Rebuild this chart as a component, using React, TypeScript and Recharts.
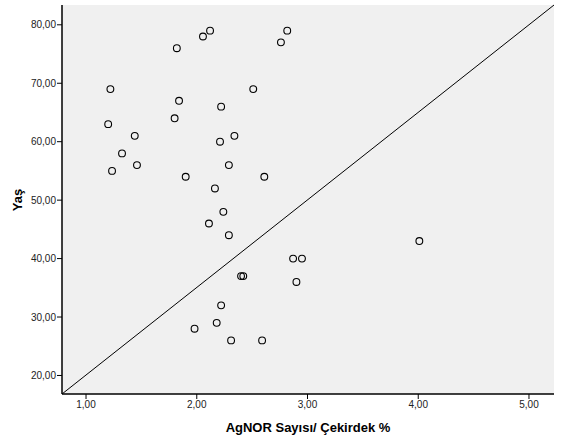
import {
  ScatterChart,
  Scatter,
  XAxis,
  YAxis,
  CartesianGrid,
  ReferenceLine,
  Label,
} from 'recharts';

// AgNOR count per nucleus
const agnor = [
  1.22, 1.82, 1.84, 1.8, 1.2, 1.44, 1.325, 1.46, 1.235, 1.9,
  2.056, 2.12, 2.817, 2.76, 2.51, 2.22, 2.34, 2.21, 2.29, 2.61, 2.164, 2.24,
  2.11, 2.29, 2.87, 2.95, 2.4, 2.42, 2.9, 2.22, 2.18, 1.98, 2.31, 2.59,
  4.01,
];

// age
const yas = [
  69, 76, 67, 64, 63, 61, 58, 56, 55, 54,
  78, 79, 79, 77, 69, 66, 61, 60, 56, 54, 52, 48,
  46, 44, 40, 40, 37, 37, 36, 32, 29, 28, 26, 26,
  43,
];

const xTicks = [1, 2, 3, 4, 5];
const yTicks = [20, 30, 40, 50, 60, 70, 80];

const X_DOMAIN: [number, number] = [0.783, 5.226];
const Y_DOMAIN: [number, number] = [16.83, 83.39];

const points = agnor.map((x, i) => ({ x, y: yas[i] }));

const fmt = (v: number) => v.toFixed(2).replace('.', ',');

const FONT = '"Liberation Sans", Arial, sans-serif';
const tickStyle = { fontSize: 10, fill: '#222', fontFamily: FONT };

const Ring = (props: any) => (
  <circle cx={props.cx} cy={props.cy} r={3.4} fill="none" stroke="#000" strokeWidth={1.1} />
);

export default function App() {
  return (
    <div style={{ position: 'absolute', left: 0, top: 0, background: '#fff' }}>
      <ScatterChart width={561} height={438} margin={{ top: 5, right: 7, bottom: 0, left: 0 }}>
        <CartesianGrid horizontal={false} vertical={false} fill="#f0f0f0" fillOpacity={1} stroke="none" />
        <XAxis
          type="number"
          dataKey="x"
          domain={X_DOMAIN}
          ticks={xTicks}
          allowDataOverflow
          height={44}
          tickFormatter={fmt}
          tick={tickStyle}
          tickSize={5}
          tickMargin={2}
          stroke="#000"
          axisLine={{ stroke: '#000', strokeWidth: 1.5 }}
        >
          <Label
            content={() => (
              <text
                x={308}
                y={432}
                textAnchor="middle"
                fontFamily={FONT}
                fontSize={13}
                fontWeight="bold"
                fill="#000"
              >
                AgNOR Sayısı/ Çekirdek %
              </text>
            )}
          />
        </XAxis>
        <XAxis
          xAxisId="top"
          orientation="top"
          type="number"
          domain={X_DOMAIN}
          allowDataOverflow
          height={0}
          tick={false}
          tickLine={false}
          axisLine={{ stroke: '#6e6e6e', strokeWidth: 1.5 }}
        />
        <YAxis
          type="number"
          dataKey="y"
          domain={Y_DOMAIN}
          ticks={yTicks}
          allowDataOverflow
          width={62}
          tickFormatter={fmt}
          tick={tickStyle}
          tickSize={5}
          tickMargin={1}
          stroke="#000"
          axisLine={{ stroke: '#000', strokeWidth: 1.5 }}
        >
          <Label
            content={() => (
              <text
                x={22}
                y={200}
                transform="rotate(-90 22 200)"
                textAnchor="middle"
                fontFamily={FONT}
                fontSize={13}
                fontWeight="bold"
                fill="#000"
              >
                Yaş
              </text>
            )}
          />
        </YAxis>
        <YAxis
          yAxisId="right"
          orientation="right"
          type="number"
          domain={Y_DOMAIN}
          allowDataOverflow
          width={0}
          tick={false}
          tickLine={false}
          axisLine={{ stroke: '#6e6e6e', strokeWidth: 1.5 }}
        />
        <ReferenceLine
          segment={[
            { x: X_DOMAIN[0], y: Y_DOMAIN[0] },
            { x: X_DOMAIN[1], y: Y_DOMAIN[1] },
          ]}
          stroke="#000"
          strokeWidth={1}
          ifOverflow="extendDomain"
        />
        <Scatter data={points} shape={Ring} isAnimationActive={false} />
      </ScatterChart>
    </div>
  );
}
